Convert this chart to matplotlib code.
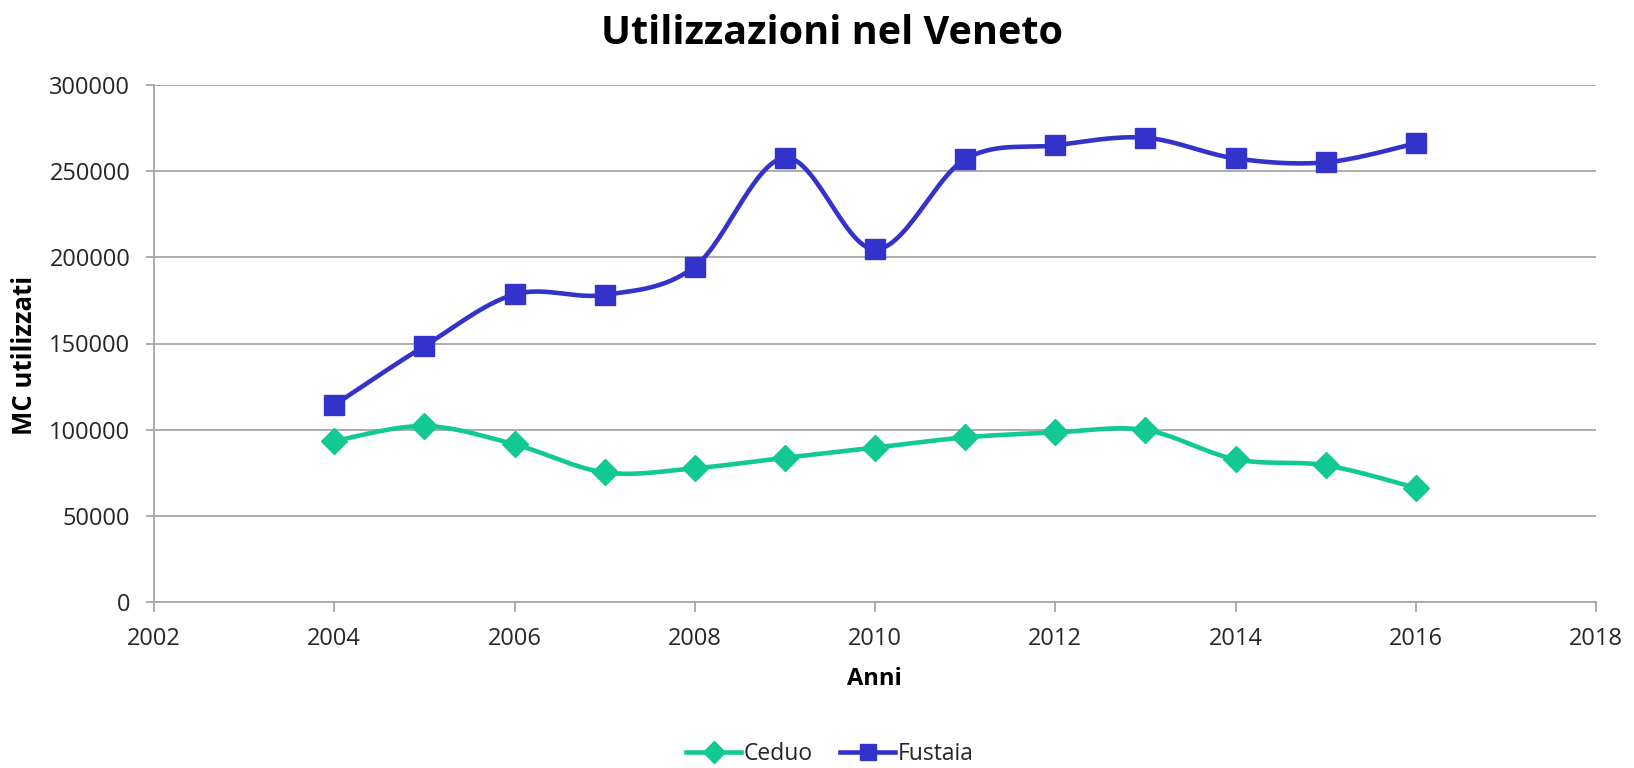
import numpy as np
import matplotlib
matplotlib.use("Agg")
import matplotlib.pyplot as plt
from matplotlib.lines import Line2D

years = [2004, 2005, 2006, 2007, 2008, 2009, 2010, 2011, 2012, 2013, 2014, 2015, 2016]
ceduo = [93400, 102100, 91500, 75200, 77600, 83700, 89600, 95500, 98400, 99800, 82800, 79300, 66300]
fustaia = [114300, 148500, 178500, 178200, 194600, 257800, 204600, 256900, 265000, 269400, 257400, 255100, 266100]
xticks = [2002, 2004, 2006, 2008, 2010, 2012, 2014, 2016, 2018]
yticks = [0, 50000, 100000, 150000, 200000, 250000, 300000]

C_CEDUO = "#12C893"
C_FUST = "#3333CC"
GRID = "#A6A6A6"
TXT = "#262626"

plt.rcParams['font.family'] = ['Open Sans', 'DejaVu Sans']


def smooth(xs, ys, n=30):
    """Excel-like smoothed line (Catmull-Rom Bezier through the data points)."""
    xs = np.asarray(xs, float)
    ys = np.asarray(ys, float)
    px, py = [], []
    m = len(xs)
    for i in range(m - 1):
        x0, y0 = (xs[i - 1], ys[i - 1]) if i > 0 else (xs[i], ys[i])
        x1, y1 = xs[i], ys[i]
        x2, y2 = xs[i + 1], ys[i + 1]
        x3, y3 = (xs[i + 2], ys[i + 2]) if i + 2 < m else (xs[i + 1], ys[i + 1])
        c1x, c1y = x1 + (x2 - x0) / 6, y1 + (y2 - y0) / 6
        c2x, c2y = x2 - (x3 - x1) / 6, y2 - (y3 - y1) / 6
        t = np.linspace(0, 1, n, endpoint=(i == m - 2))
        b0 = (1 - t) ** 3
        b1 = 3 * (1 - t) ** 2 * t
        b2 = 3 * (1 - t) * t ** 2
        b3 = t ** 3
        px.extend(b0 * x1 + b1 * c1x + b2 * c2x + b3 * x2)
        py.extend(b0 * y1 + b1 * c1y + b2 * c2y + b3 * y2)
    return np.array(px), np.array(py)


fig = plt.figure(figsize=(16.34, 7.68), dpi=100)
ax = fig.add_axes([154 / 1634, 1 - 602 / 768, (1596 - 154) / 1634, (602 - 85) / 768])

ax.set_xlim(2002, 2018)
ax.set_ylim(0, 300000)
ax.set_xticks(xticks)
ax.set_yticks(yticks)
ax.set_xticklabels([str(v) for v in xticks])
ax.set_yticklabels([str(v) for v in yticks])

ax.grid(axis='y', color=GRID, linewidth=1.3)
ax.set_axisbelow(True)
for s in ['top', 'right']:
    ax.spines[s].set_visible(False)
for s in ['left', 'bottom']:
    ax.spines[s].set_color(GRID)
    ax.spines[s].set_linewidth(1.3)
ax.tick_params(axis='both', colors=GRID, width=1.3, labelcolor=TXT, labelsize=17)
ax.tick_params(axis='y', length=6, pad=11)
ax.tick_params(axis='x', length=7, pad=11)

sx, sy = smooth(years, fustaia)
ax.plot(sx, sy, color=C_FUST, linewidth=3.3, solid_capstyle='round', zorder=3)
ax.plot(years, fustaia, linestyle='none', marker='s', markersize=15, color=C_FUST, zorder=4)

sx, sy = smooth(years, ceduo)
ax.plot(sx, sy, color=C_CEDUO, linewidth=3.3, solid_capstyle='round', zorder=3)
ax.plot(years, ceduo, linestyle='none', marker='D', markersize=13, color=C_CEDUO, zorder=4)

fig.text(832 / 1634, 1 - 33 / 768, "Utilizzazioni nel Veneto", ha='center', va='center',
         fontsize=28.5, fontweight='bold', color='black')
fig.text(874 / 1634, 1 - 679 / 768, "Anni", ha='center', va='center',
         fontsize=17, fontweight='bold', color='black')
fig.text(25 / 1634, 1 - 355 / 768, "MC utilizzati", ha='center', va='center',
         rotation=90, fontsize=18.5, fontweight='bold', color='black')

handles = [
    Line2D([0], [0], color=C_CEDUO, linewidth=3.3, marker='D', markersize=11),
    Line2D([0], [0], color=C_FUST, linewidth=3.3, marker='s', markersize=12),
]
fig.legend(handles, ["Ceduo", "Fustaia"], loc='center', bbox_to_anchor=(830 / 1634, 1 - 754 / 768),
           ncol=2, frameon=False, fontsize=16.5, handlelength=2.4, handletextpad=0.1,
           columnspacing=1.2, labelcolor=TXT)

fig.savefig("out.png", dpi=100, facecolor='white')
